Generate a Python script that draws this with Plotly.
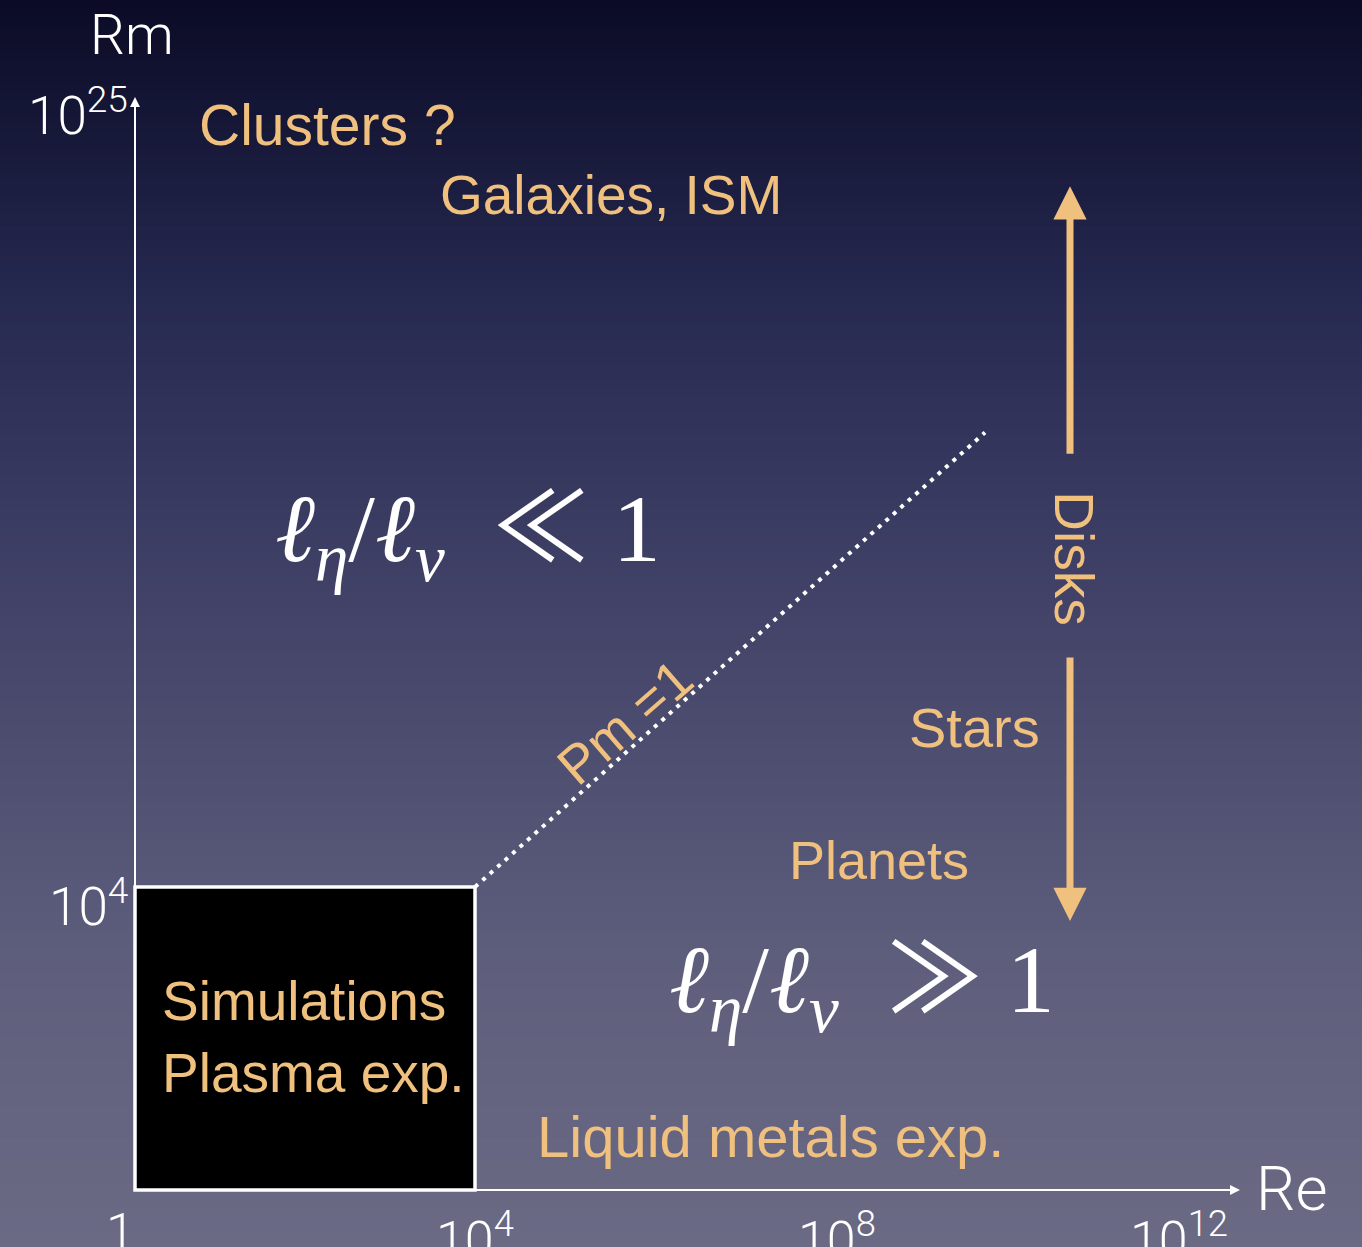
import plotly.graph_objects as go

# ---- chart content -------------------------------------------------------
# Axes are in decades: x = log10(Re), y = log10(Rm)
re_tick_vals = [0, 4, 8, 12]
re_tick_text = ["1", "10<sup>4</sup>", "10<sup>8</sup>", "10<sup>12</sup>"]
rm_tick_vals = [4, 14.43]          # top of the Rm axis is labelled 10^25 (axis break)
rm_tick_text = ["10<sup>4</sup>", "10<sup>25</sup>"]
re_axis_end = 13.0
rm_axis_end = 14.43

# Simulations / plasma experiments box: 1 < Re, Rm < 10^4
sim_box_re = [0, 4]
sim_box_rm = [0, 4]

# Pm = 1 line (Re = Rm)
pm_line_re = [4, 10]
pm_line_rm = [4, 10]

# Disks double arrow (upper and lower parts)
disks_re = 11.0
disks_up_rm = [9.7, 13.25]
disks_down_rm = [7.05, 3.55]

# Region labels (text, log Re of left edge, log Rm of centre)
region_labels = ["Clusters ?", "Galaxies, ISM", "Stars", "Planets", "Liquid metals exp."]
region_re = [0.73, 3.56, 9.08, 7.67, 4.71]
region_rm = [14.06, 13.14, 6.10, 4.36, 0.70]

ORANGE = "#EFC07E"
WHITE = "#FFFFFF"
SANS = "Liberation Sans"
THIN = "Roboto"
SERIF = "Liberation Serif, DejaVu Serif"
REL = "Noto Sans CJK JP"

W, H = 1362, 1247
x_range = [-135 / 85, (W - 135) / 85]
y_range = [-(H - 1190) / 75.75, 1190 / 75.75]

fig = go.Figure()

# ---- background gradient (navy at the top, greyish lilac at the bottom) ----
stops = [(0.0, (11, 11, 38)), (0.24, (38, 41, 80)), (0.48, (66, 66, 104)),
         (0.80, (96, 96, 126)), (1.0, (106, 106, 132))]


def grad_color(t):
    for (t0, c0), (t1, c1) in zip(stops[:-1], stops[1:]):
        if t <= t1:
            f = (t - t0) / (t1 - t0)
            return "rgb(%d,%d,%d)" % tuple(round(a + (b - a) * f) for a, b in zip(c0, c1))
    return "rgb(%d,%d,%d)" % stops[-1][1]


n_bands = 160
shapes = []
for i in range(n_bands):
    t = (i + 0.5) / n_bands
    shapes.append(dict(type="rect", xref="paper", yref="paper",
                       x0=0, x1=1, y0=1 - (i + 1) / n_bands - 0.001, y1=1 - i / n_bands + 0.001,
                       fillcolor=grad_color(t), line=dict(width=0), layer="below"))

# Simulations box
shapes.append(dict(type="rect", xref="x", yref="y",
                   x0=sim_box_re[0], x1=sim_box_re[1], y0=sim_box_rm[0], y1=sim_box_rm[1],
                   fillcolor="black", line=dict(color=WHITE, width=3.5), layer="above"))

# Pm = 1 dotted line
fig.add_trace(go.Scatter(x=pm_line_re, y=pm_line_rm, mode="lines",
                         line=dict(color=WHITE, width=4, dash="4px,6px"),
                         hoverinfo="skip", showlegend=False))

annotations = []


def arrow(x0, y0, x1, y1, color, width, head, size):
    annotations.append(dict(x=x1, y=y1, ax=x0, ay=y0, xref="x", yref="y",
                            axref="x", ayref="y", text="", showarrow=True,
                            arrowhead=head, arrowsize=size, arrowwidth=width,
                            arrowcolor=color, standoff=0, startstandoff=0))


# Axes with arrow tips
arrow(0, 0, re_axis_end, 0, WHITE, 2, 2, 1.0)
arrow(0, 0, 0, rm_axis_end, WHITE, 2, 2, 1.0)

# Disks arrows
arrow(disks_re, disks_up_rm[0], disks_re, disks_up_rm[1], ORANGE, 7, 2, 0.95)
arrow(disks_re, disks_down_rm[0], disks_re, disks_down_rm[1], ORANGE, 7, 2, 0.95)

# Axis titles
annotations.append(dict(x=0, y=rm_axis_end, xref="x", yref="y", text="Rm", showarrow=False,
                        xanchor="center", yanchor="bottom", yshift=28, xshift=-3,
                        font=dict(family=THIN, size=55, color=WHITE, weight=300)))
annotations.append(dict(x=re_axis_end, y=0, xref="x", yref="y", text="Re", showarrow=False,
                        xanchor="left", yanchor="middle", xshift=14, yshift=2,
                        font=dict(family=THIN, size=62, color=WHITE, weight=300)))

# Tick labels on the Re axis
re_label_shift = [-15, 0, 22, 24]
for v, t, s in zip(re_tick_vals, re_tick_text, re_label_shift):
    annotations.append(dict(x=v, y=0, xref="x", yref="y", text=t, showarrow=False,
                            xanchor="center", yanchor="top", yshift=-10, xshift=s,
                            font=dict(family=THIN, size=52, color=WHITE, weight=300)))

# Tick labels on the Rm axis
for v, t in zip(rm_tick_vals, rm_tick_text):
    annotations.append(dict(x=0, y=v, xref="x", yref="y", text=t, showarrow=False,
                            xanchor="right", yanchor="middle", xshift=-5, yshift=-16,
                            font=dict(family=THIN, size=53, color=WHITE, weight=300)))

# Region labels
region_size = [57, 55, 56, 54, 58]
for t, x, y, s in zip(region_labels, region_re, region_rm, region_size):
    annotations.append(dict(x=x, y=y, xref="x", yref="y", text=t, showarrow=False,
                            xanchor="left", yanchor="middle",
                            font=dict(family=SANS, size=s, color=ORANGE)))

# Text inside the simulations box
annotations.append(dict(x=0.29, y=2.02, xref="x", yref="y",
                        text="Simulations<br>Plasma exp.", showarrow=False,
                        xanchor="left", yanchor="middle", align="left",
                        font=dict(family=SANS, size=55, color=ORANGE)))

# Disks (rotated) and Pm = 1 (along the dotted line)
annotations.append(dict(x=disks_re, y=8.34, xref="x", yref="y", text="Disks", showarrow=False,
                        textangle=90, xshift=4,
                        font=dict(family=SANS, size=55, color=ORANGE)))
annotations.append(dict(x=5.76, y=6.18, xref="x", yref="y", text="Pm =1", showarrow=False,
                        textangle=-41,
                        font=dict(family=SANS, size=54, color=ORANGE)))

# Scale-ratio regimes
ratio = "<i>ℓ</i><sub><i>η</i></sub>/<i>ℓ</i><sub><i>ν</i></sub>"
math_lo = ratio + "  <span style=\"font-family:'%s'\">≪</span> 1" % REL
math_hi = ratio + "  <span style=\"font-family:'%s'\">≫</span> 1" % REL
annotations.append(dict(x=3.92, y=8.81, xref="x", yref="y", text=math_lo, showarrow=False,
                        font=dict(family=SERIF, size=96, color=WHITE)))
annotations.append(dict(x=8.55, y=2.85, xref="x", yref="y", text=math_hi, showarrow=False,
                        font=dict(family=SERIF, size=96, color=WHITE)))

fig.update_layout(
    width=W, height=H,
    margin=dict(l=0, r=0, t=0, b=0),
    paper_bgcolor="rgb(11,11,38)",
    plot_bgcolor="rgba(0,0,0,0)",
    xaxis=dict(range=x_range, visible=False, fixedrange=True),
    yaxis=dict(range=y_range, visible=False, fixedrange=True),
    shapes=shapes,
    annotations=annotations,
    showlegend=False,
)

fig.write_html("out.html", config={"displayModeBar": False})
